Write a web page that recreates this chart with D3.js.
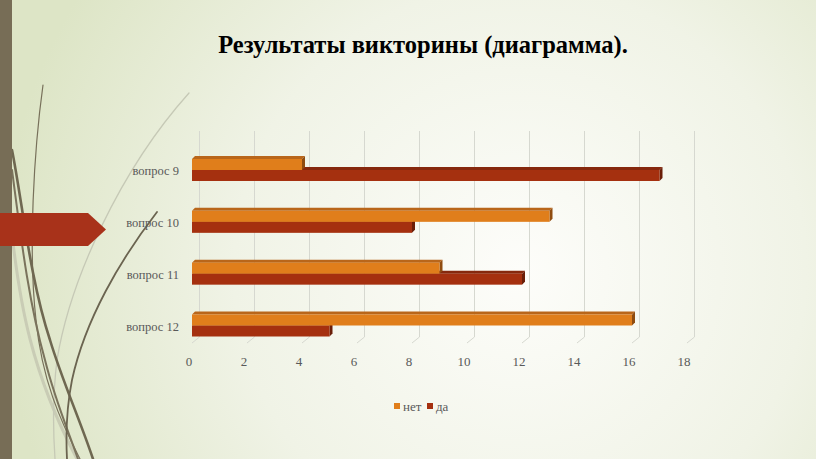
<html>
  <head>
    <script src="https://d3js.org/d3.v7.min.js"></script>
    <meta charset="UTF-8">
    <style>
      body { margin: 0; }
      svg { display: block; }
    </style>
  </head>

  <body>
    <svg id="slide" width="816" height="459"></svg>

    <script>
      // chart data
      var title = "Результаты викторины (диаграмма).";
      var questions = ["вопрос 9", "вопрос 10", "вопрос 11", "вопрос 12"];
      var series = ["нет", "да"];
      var net = [4, 13, 9, 16];
      var da = [17, 8, 12, 5];
      var ticks = [0, 2, 4, 6, 8, 10, 12, 14, 16, 18];

      var colors = { "нет": "#e07e1b", "да": "#a5300f" };
      var tops = { "нет": "#b9661a", "да": "#86280d" };
      var sides = { "нет": "#8f4c10", "да": "#6a1e08" };

      var serif = "'Liberation Serif', 'Times New Roman', serif";
      var svg = d3.select("#slide");
      var W = 816, H = 459;

      // background
      var defs = svg.append("defs");
      var grad = defs.append("radialGradient")
        .attr("id", "bg")
        .attr("gradientUnits", "userSpaceOnUse")
        .attr("cx", 520).attr("cy", 270).attr("r", 520);
      grad.append("stop").attr("offset", "0").attr("stop-color", "#fdfdfa");
      grad.append("stop").attr("offset", "0.55").attr("stop-color", "#f0f3e6");
      grad.append("stop").attr("offset", "1").attr("stop-color", "#dde5c6");
      svg.append("rect").attr("width", W).attr("height", H).attr("fill", "url(#bg)");

      // wisp decoration on the left
      var deco = svg.append("g").attr("fill", "none").attr("stroke-linecap", "round");
      var wisps = [
        { d: "M13,243 C20,300 30,370 77,459", c: "#c9ccb5", w: 3 },
        { d: "M189,93 C120,170 70,280 57,360 C52,400 53,430 55,459", c: "#c6c9b6", w: 1.3 },
        { d: "M43,85 C34,150 28,250 36,320 C42,380 60,420 80,459", c: "#77705a", w: 1.2 },
        { d: "M12,150 C22,200 30,280 50,340 C62,380 80,420 93,459", c: "#6f6851", w: 2.6 },
        { d: "M12,170 C20,230 28,300 45,360 C55,400 68,430 78,459", c: "#7a735c", w: 2 },
        { d: "M157,212 C120,260 85,320 72,380 C66,410 66,440 67,459", c: "#6b6450", w: 1.8 }
      ];
      deco.selectAll("path").data(wisps).enter().append("path")
        .attr("d", function(d) { return d.d; })
        .attr("stroke", function(d) { return d.c; })
        .attr("stroke-width", function(d) { return d.w; });

      svg.append("rect").attr("x", 0).attr("y", 0).attr("width", 12).attr("height", H)
        .attr("fill", "#776d56");
      svg.append("path")
        .attr("d", "M0,213 L88,213 L106,229.5 L88,246 L0,246 Z")
        .attr("fill", "#a8321a");

      // title
      svg.append("text")
        .attr("x", 423).attr("y", 53)
        .attr("text-anchor", "middle")
        .attr("font-family", serif)
        .attr("font-weight", "bold")
        .attr("font-size", 24.5)
        .attr("fill", "#000")
        .text(title);

      // scales
      var x = d3.scaleLinear().domain([0, 18]).range([192, 687]);
      var y = d3.scalePoint().domain(questions).range([170, 325.5]);
      var ys = d3.scaleBand().domain(series).range([-11, 11]);
      var depth = 3;          // bar depth (oblique)
      var wallDx = 7.5, wallDy = -6;
      var wallTop = 131, floorY = 337;

      // gridlines: back wall + floor
      var grid = svg.append("g").attr("stroke", "#d6d8d0").attr("stroke-width", 1).attr("fill", "none");
      grid.selectAll("path").data(ticks).enter().append("path")
        .attr("d", function(v) {
          var bx = x(v) + wallDx;
          return "M" + bx + "," + wallTop + " L" + bx + "," + floorY +
            " L" + (x(v)) + "," + (floorY - wallDy);
        });

      // tick labels
      svg.append("g").selectAll("text").data(ticks).enter().append("text")
        .attr("x", function(v) { return x(v) - 3; })
        .attr("y", 366)
        .attr("text-anchor", "middle")
        .attr("font-family", serif)
        .attr("font-size", 13)
        .attr("fill", "#595959")
        .text(function(v) { return v; });

      // category labels
      svg.append("g").selectAll("text").data(questions).enter().append("text")
        .attr("x", 179)
        .attr("y", function(q) { return y(q) + 1; })
        .attr("dy", "0.32em")
        .attr("text-anchor", "end")
        .attr("font-family", serif)
        .attr("font-size", 12.5)
        .attr("fill", "#595959")
        .text(function(q) { return q; });

      // bars: "да" first so "нет" covers its top face
      var rows = [];
      questions.forEach(function(q, i) {
        rows.push({ q: q, s: "да", v: da[i] });
      });
      questions.forEach(function(q, i) {
        rows.push({ q: q, s: "нет", v: net[i] });
      });

      var bars = svg.append("g").selectAll("g").data(rows).enter().append("g");

      bars.append("path")
        .attr("fill", function(d) { return tops[d.s]; })
        .attr("d", function(d) {
          var x0 = x(0), x1 = x(d.v), y0 = y(d.q) + ys(d.s);
          return "M" + x0 + "," + y0 + " L" + (x0 + depth) + "," + (y0 - depth) +
            " L" + (x1 + depth) + "," + (y0 - depth) + " L" + x1 + "," + y0 + " Z";
        });

      bars.append("path")
        .attr("fill", function(d) { return sides[d.s]; })
        .attr("d", function(d) {
          var x1 = x(d.v), y0 = y(d.q) + ys(d.s), y1 = y0 + ys.bandwidth();
          return "M" + x1 + "," + y0 + " L" + (x1 + depth) + "," + (y0 - depth) +
            " L" + (x1 + depth) + "," + (y1 - depth) + " L" + x1 + "," + y1 + " Z";
        });

      bars.append("rect")
        .attr("x", x(0))
        .attr("y", function(d) { return y(d.q) + ys(d.s); })
        .attr("width", function(d) { return x(d.v) - x(0); })
        .attr("height", ys.bandwidth())
        .attr("fill", function(d) { return colors[d.s]; });

      // legend
      var legend = svg.append("g").attr("transform", "translate(394,403)");
      var items = legend.selectAll("g").data(series).enter().append("g")
        .attr("transform", function(d, i) { return "translate(" + (i * 33) + ",0)"; });
      items.append("rect").attr("width", 6).attr("height", 6)
        .attr("fill", function(d) { return colors[d]; });
      items.append("text")
        .attr("x", 9).attr("y", 3)
        .attr("dy", "0.35em")
        .attr("font-family", serif)
        .attr("font-size", 13)
        .attr("fill", "#595959")
        .text(function(d) { return d; });
    </script>
  </body>
</html>
